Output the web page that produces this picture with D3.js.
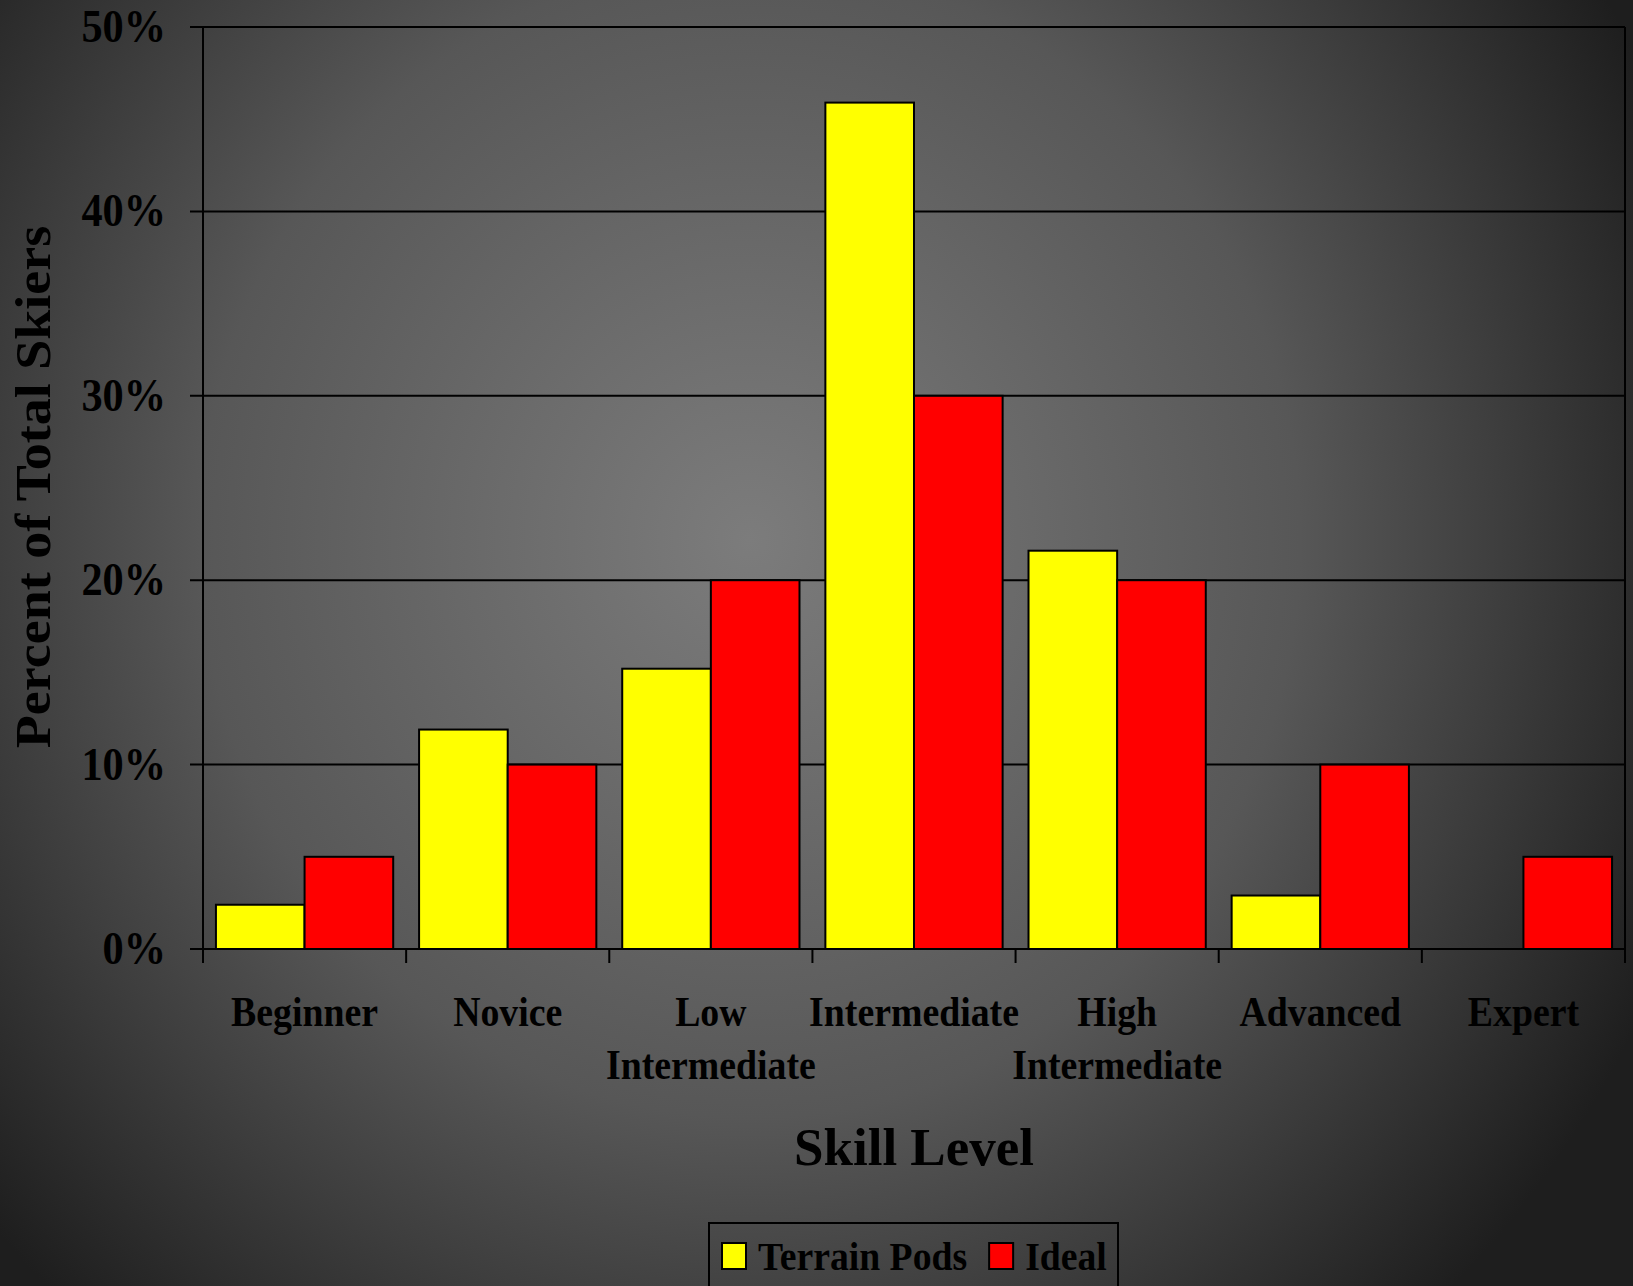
<!DOCTYPE html>
<html>
<head>
<meta charset="utf-8">
<script src="https://cdn.jsdelivr.net/npm/d3@7"></script>
<style>
  html, body { margin: 0; padding: 0; background: #1e1e1e; }
  svg { display: block; }
  text { font-family: "Liberation Serif", "Times New Roman", serif; font-weight: bold; fill: #000; }
</style>
</head>
<body>
<svg id="lienzo" width="1633" height="1286"></svg>
<script>
// datos del grafico
const categorias = [
  ["Beginner"], ["Novice"], ["Low", "Intermediate"], ["Intermediate"],
  ["High", "Intermediate"], ["Advanced"], ["Expert"]
];
const series = ["Terrain Pods", "Ideal"];
const terrainPods = [2.4, 11.9, 15.2, 45.9, 21.6, 2.9, 0];
const ideal = [5, 10, 20, 30, 20, 10, 5];
const ticksY = [0, 10, 20, 30, 40, 50];
const colores = ["#ffff00", "#ff0000"];

const W = 1633, H = 1286;
const margen = { left: 203, right: 8, top: 27, bottom: 337 };
const svg = d3.select('#lienzo');

// fondo con degradado desde el centro
const defs = svg.append('defs');
const grad = defs.append('radialGradient')
  .attr('id', 'fondo')
  .attr('gradientUnits', 'userSpaceOnUse')
  .attr('cx', 0).attr('cy', 0).attr('r', 1)
  .attr('gradientTransform', 'translate(750,540) scale(1000,1050)');
grad.append('stop').attr('offset', 0).attr('stop-color', '#7c7c7c');
grad.append('stop').attr('offset', 0.55).attr('stop-color', '#575757');
grad.append('stop').attr('offset', 0.75).attr('stop-color', '#3e3e3e');
grad.append('stop').attr('offset', 1).attr('stop-color', '#1e1e1e');
svg.append('rect').attr('width', W).attr('height', H).attr('fill', 'url(#fondo)');

const x0 = d3.scaleBand()
  .domain(d3.range(categorias.length))
  .range([margen.left, W - margen.right]);
const x1 = d3.scaleBand()
  .domain(series)
  .range([0, x0.bandwidth()])
  .paddingOuter(0.146);
const y = d3.scaleLinear().domain([0, 50]).range([H - margen.bottom, margen.top]);

// lineas de cuadricula
svg.append('g')
  .selectAll('line')
  .data(ticksY)
  .enter()
  .append('line')
  .attr('x1', margen.left - 13)
  .attr('x2', W - margen.right)
  .attr('y1', d => y(d))
  .attr('y2', d => y(d))
  .attr('stroke', '#000')
  .attr('stroke-width', 2);

// borde del area
svg.append('line')
  .attr('x1', margen.left).attr('x2', margen.left)
  .attr('y1', y(50)).attr('y2', y(0) + 14)
  .attr('stroke', '#000').attr('stroke-width', 2);
svg.append('line')
  .attr('x1', W - margen.right).attr('x2', W - margen.right)
  .attr('y1', y(50)).attr('y2', y(0) + 14)
  .attr('stroke', '#000').attr('stroke-width', 2);

// marcas del eje x
svg.append('g')
  .selectAll('line')
  .data(d3.range(categorias.length))
  .enter()
  .append('line')
  .attr('x1', d => x0(d))
  .attr('x2', d => x0(d))
  .attr('y1', y(0))
  .attr('y2', y(0) + 14)
  .attr('stroke', '#000')
  .attr('stroke-width', 2);

// barras
const valores = [terrainPods, ideal];
const grupos = svg.append('g')
  .selectAll('g')
  .data(d3.range(categorias.length))
  .enter()
  .append('g')
  .attr('transform', d => `translate(${x0(d)},0)`);

grupos.selectAll('rect')
  .data(i => series.map((s, k) => ({ s: s, k: k, v: valores[k][i] })).filter(d => d.v > 0))
  .enter()
  .append('rect')
  .attr('x', d => x1(d.s))
  .attr('width', x1.bandwidth())
  .attr('y', d => y(d.v))
  .attr('height', d => y(0) - y(d.v))
  .attr('fill', d => colores[d.k])
  .attr('stroke', '#000')
  .attr('stroke-width', 2);

// etiquetas del eje y
svg.append('g')
  .selectAll('text')
  .data(ticksY)
  .enter()
  .append('text')
  .attr('transform', d => `translate(166,${y(d) + 15}) scale(0.9,1)`)
  .attr('text-anchor', 'end')
  .attr('font-size', '47px')
  .text(d => d + '%');

// etiquetas de categorias
const etiquetas = svg.append('g')
  .selectAll('g')
  .data(categorias)
  .enter()
  .append('g');
etiquetas.selectAll('text')
  .data((d, i) => d.map((t, j) => ({ t: t, i: i, j: j })))
  .enter()
  .append('text')
  .attr('transform', d => `translate(${x0(d.i) + x0.bandwidth() / 2},${1026 + d.j * 53}) scale(0.9,1)`)
  .attr('text-anchor', 'middle')
  .attr('font-size', '42px')
  .text(d => d.t);

// titulos
svg.append('text')
  .attr('x', (margen.left + W - margen.right) / 2)
  .attr('y', 1165)
  .attr('text-anchor', 'middle')
  .attr('font-size', '53px')
  .text('Skill Level');

svg.append('text')
  .attr('transform', 'translate(50,487) rotate(-90) scale(1,0.92)')
  .attr('text-anchor', 'middle')
  .attr('font-size', '54px')
  .text('Percent of Total Skiers');

// leyenda
const leyenda = svg.append('g');
leyenda.append('rect')
  .attr('x', 709).attr('y', 1223)
  .attr('width', 409).attr('height', 100)
  .attr('fill', 'none')
  .attr('stroke', '#000')
  .attr('stroke-width', 2);
let lx = 722;
series.forEach((s, k) => {
  leyenda.append('rect')
    .attr('x', lx).attr('y', 1243)
    .attr('width', 24).attr('height', 26)
    .attr('fill', colores[k])
    .attr('stroke', '#000')
    .attr('stroke-width', 2);
  const t = leyenda.append('text')
    .attr('transform', `translate(${lx + 36},1270) scale(0.92,1)`)
    .attr('font-size', '41px')
    .text(s);
  lx += 36 + t.node().getComputedTextLength() * 0.92 + 22;
});
</script>
</body>
</html>
